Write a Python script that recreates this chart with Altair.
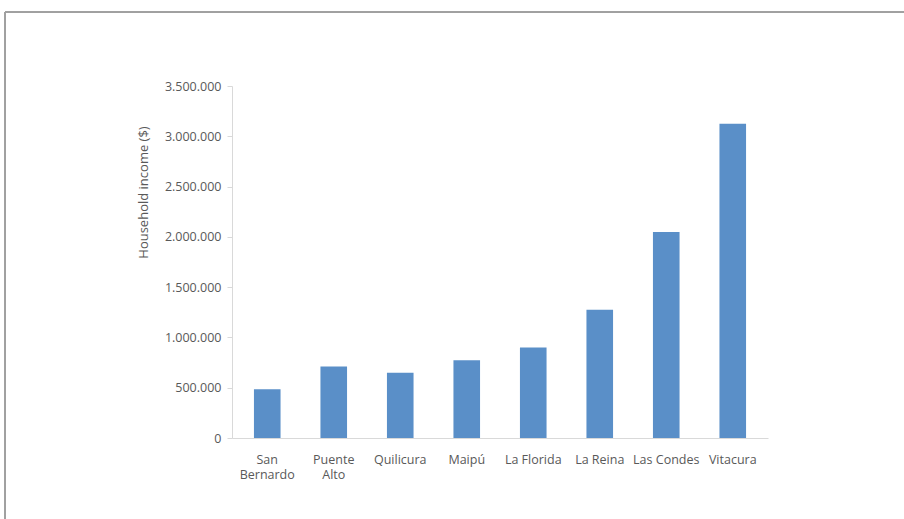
import altair as alt
import pandas as pd

categories = ["San Bernardo", "Puente Alto", "Quilicura", "Maipú", "La Florida",
              "La Reina", "Las Condes", "Vitacura"]
income = [484000, 710000, 650000, 772000, 899000, 1276000, 2048000, 3125000]
y_ticks = [0, 500000, 1000000, 1500000, 2000000, 2500000, 3000000, 3500000]

df = pd.DataFrame({"comuna": categories, "income": income})

label_expr = ("datum.label == 'San Bernardo' ? ['San', 'Bernardo'] : "
              "datum.label == 'Puente Alto' ? ['Puente', 'Alto'] : datum.label")

bars = alt.Chart(df).mark_bar(color="#5A8FC8").encode(
    x=alt.X("comuna:N", sort=categories,
            scale=alt.Scale(paddingInner=0.6, paddingOuter=0.33),
            axis=alt.Axis(title=None, labelAngle=0, labelExpr=label_expr,
                          ticks=False, domainColor="#D9D9D9", labelColor="#595959",
                          labelFont="Open Sans", labelFontSize=12.5, labelPadding=15,
                          labelLineHeight=15)),
    y=alt.Y("income:Q", scale=alt.Scale(domain=[0, 3500000], nice=False),
            axis=alt.Axis(title="Household income ($)", values=y_ticks,
                          labelExpr="replace(format(datum.value, ','), regexp(',', 'g'), '.')",
                          grid=False, domainColor="#D9D9D9", tickColor="#D9D9D9",
                          tickSize=5, labelColor="#595959", labelFont="Open Sans",
                          labelFontSize=12.5, labelPadding=6,
                          titleColor="#595959", titleFont="Open Sans", titleFontSize=13,
                          titleFontWeight="normal", titleX=-89, titleY=106,
                          titleAlign="center", titleBaseline="middle")),
)

frame_v = alt.Chart(df).mark_rule(color="#A0A0A0", strokeWidth=1).encode(
    x=alt.value(-227), y=alt.value(-74), y2=alt.value(440))
frame_h = alt.Chart(df).mark_rule(color="#A0A0A0", strokeWidth=1).encode(
    x=alt.value(-227), x2=alt.value(680), y=alt.value(-74))

chart = alt.layer(frame_v, frame_h, bars).properties(
    width=536, height=352, background="white",
    autosize=alt.AutoSizeParams(type="none"),
    padding={"left": 232, "top": 86, "right": 136, "bottom": 81},
).configure_view(strokeWidth=0)

chart.save("out.html", embed_options={"renderer": "svg", "actions": False})
